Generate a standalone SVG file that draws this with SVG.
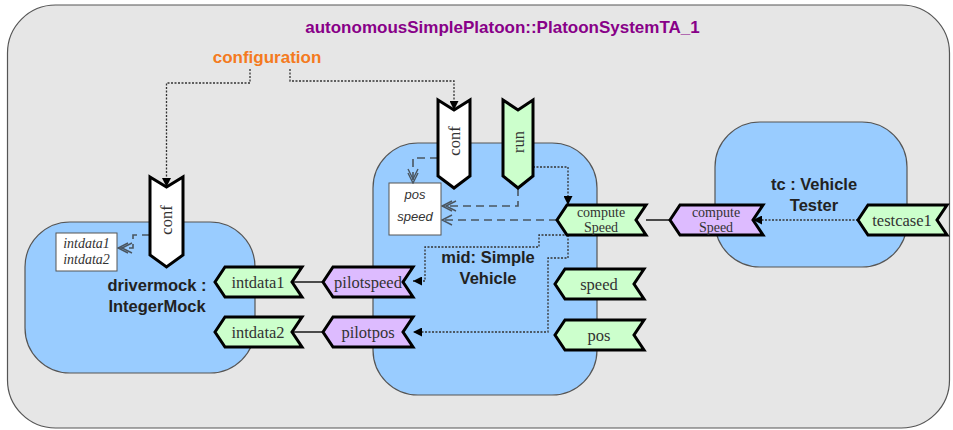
<svg xmlns="http://www.w3.org/2000/svg" width="953" height="430" viewBox="0 0 953 430">
<style>
.blk{fill:#99ccff;stroke:#555;stroke-width:1.2}
.pg{fill:#ccffcc;stroke:#000;stroke-width:3;stroke-linejoin:miter}
.pp{fill:#ddbbff;stroke:#000;stroke-width:3;stroke-linejoin:miter}
.pw{fill:#fff;stroke:#000;stroke-width:3;stroke-linejoin:miter}
.pl{font-family:"Liberation Serif",serif;font-size:16.5px;fill:#333;text-anchor:middle}
.ps{font-family:"Liberation Serif",serif;font-size:14px;fill:#333;text-anchor:middle}
.bl{font-family:"Liberation Sans",Arial,sans-serif;font-size:16.5px;font-weight:bold;fill:#222;text-anchor:middle}
.dash{fill:none;stroke:#4a5560;stroke-width:1.6;stroke-dasharray:8,5}
.dot{fill:none;stroke:#333;stroke-width:1.3;stroke-dasharray:2,1.5}
.solid{fill:none;stroke:#222;stroke-width:1.6}
.box{fill:#fff;stroke:#555;stroke-width:1}
</style>
<defs>
<marker id="fa" viewBox="0 0 10 10" refX="10" refY="5" markerWidth="9" markerHeight="9" markerUnits="userSpaceOnUse" orient="auto"><path d="M0,0 L10,5 L0,10 z" fill="#000"/></marker>
<marker id="oa" viewBox="0 0 12 12" refX="11" refY="6" markerWidth="12" markerHeight="12" markerUnits="userSpaceOnUse" orient="auto"><path d="M1,1 L11,6 L1,11" fill="none" stroke="#4a5560" stroke-width="1.4"/></marker>
<marker id="oa2" viewBox="0 0 16 12" refX="15" refY="6" markerWidth="16" markerHeight="12" markerUnits="userSpaceOnUse" orient="auto"><path d="M1,1 L11,6 L1,11 M5,1 L15,6 L5,11" fill="none" stroke="#4a5560" stroke-width="1.4"/></marker>
</defs>

<g id="system">
<rect x="7.5" y="5" width="942" height="423" rx="48" ry="48" fill="#e6e6e6" stroke="#555" stroke-width="1.2"/>
<text x="502.5" y="33" font-family="Liberation Sans,Arial,sans-serif" font-size="17" font-weight="bold" fill="#880088" text-anchor="middle">autonomousSimplePlatoon::PlatoonSystemTA_1</text>
</g>

<g id="configuration">
<text x="267" y="63" font-family="Liberation Sans,Arial,sans-serif" font-size="17" font-weight="bold" fill="#f47a20" text-anchor="middle">configuration</text>
</g>

<g id="drivermock">
<rect class="blk" x="25" y="222" width="230" height="151" rx="45" ry="45"/>
<text class="bl" x="157" y="291">drivermock :</text>
<text class="bl" x="157" y="312">IntegerMock</text>
<rect class="box" x="56" y="233" width="61" height="38"/>
<text x="86.5" y="248" font-family="Liberation Serif,serif" font-style="italic" font-size="14" fill="#333" text-anchor="middle">intdata1</text>
<text x="86.5" y="264" font-family="Liberation Serif,serif" font-style="italic" font-size="14" fill="#333" text-anchor="middle">intdata2</text>
</g>

<g id="mid">
<rect class="blk" x="373" y="143" width="224" height="252" rx="45" ry="45"/>
<text class="bl" x="488" y="263">mid: Simple</text>
<text class="bl" x="488" y="284">Vehicle</text>
<rect class="box" x="389" y="183" width="52" height="52"/>
<text x="415" y="199" font-family="Liberation Sans,Arial,sans-serif" font-style="italic" font-size="13" fill="#333" text-anchor="middle">pos</text>
<text x="415" y="221" font-family="Liberation Sans,Arial,sans-serif" font-style="italic" font-size="13" fill="#333" text-anchor="middle">speed</text>
</g>

<g id="tc">
<rect class="blk" x="715" y="122" width="192" height="145" rx="45" ry="45"/>
<text class="bl" x="814" y="190">tc : Vehicle</text>
<text class="bl" x="814" y="211">Tester</text>
</g>

<g id="connectors">
<path class="dot" d="M250,69 V83 H166.5 V187" marker-end="url(#fa)"/>
<path class="dot" d="M290,69 V81 H454 V110" marker-end="url(#fa)"/>
<path class="dash" d="M150,235 H133 V248 H118" marker-end="url(#oa2)"/>
<path class="dash" d="M438,158 H413 V183" marker-end="url(#oa2)"/>
<path class="dash" d="M518,188 V206 H442" marker-end="url(#oa2)"/>
<path class="dash" d="M557,220 H442" marker-end="url(#oa)"/>
<path class="dot" d="M533,167 H568 V205" marker-end="url(#fa)"/>
<path class="dot" d="M568,235 H539 V247 H425 V281 H413" marker-end="url(#fa)"/>
<path class="dot" d="M568,235 V258 H548 V332 H413" marker-end="url(#fa)"/>
<path class="dot" d="M858,220 H753" marker-end="url(#fa)"/>
<path class="solid" d="M646,220 H670"/>
<path class="solid" d="M292,282 H323"/>
<path class="solid" d="M292,332 H323"/>
</g>

<g id="drivermock-conf">
<polygon class="pw" points="150,177 166.5,187 183,177 183,255 166.5,267 150,255"/>
<text class="pl" font-size="17.5" transform="translate(166.5,220) rotate(-90)" dy="5.5">conf</text>
</g>
<g id="drivermock-intdata1">
<polygon class="pg" points="215,282 225,267 302,267 292,282 302,297 225,297"/>
<text class="pl" x="258" y="288">intdata1</text>
</g>
<g id="drivermock-intdata2">
<polygon class="pg" points="215,332 225,317 302,317 292,332 302,347 225,347"/>
<text class="pl" x="258" y="338">intdata2</text>
</g>
<g id="mid-pilotspeed">
<polygon class="pp" points="323,282 333,267 413,267 403,282 413,297 333,297"/>
<text class="pl" x="368" y="288">pilotspeed</text>
</g>
<g id="mid-pilotpos">
<polygon class="pp" points="323,332 333,317 413,317 403,332 413,347 333,347"/>
<text class="pl" x="368" y="338">pilotpos</text>
</g>
<g id="mid-conf">
<polygon class="pw" points="438,100 454,110 470,100 470,176 454,188 438,176"/>
<text class="pl" font-size="17.5" transform="translate(454,141) rotate(-90)" dy="5.5">conf</text>
</g>
<g id="mid-run">
<polygon class="pg" points="503,100 518,110 533,100 533,176 518,188 503,176"/>
<text class="pl" font-size="17.5" transform="translate(518,142) rotate(-90)" dy="5.5">run</text>
</g>
<g id="mid-computeSpeed">
<polygon class="pg" points="557,220 567,205 646,205 636,220 646,235 567,235"/>
<text class="ps" x="601" y="217">compute</text>
<text class="ps" x="601" y="232">Speed</text>
</g>
<g id="mid-speed">
<polygon class="pg" points="555,284 565,269 644,269 634,284 644,299 565,299"/>
<text class="pl" x="599" y="290">speed</text>
</g>
<g id="mid-pos">
<polygon class="pg" points="555,335 565,320 644,320 634,335 644,350 565,350"/>
<text class="pl" x="599" y="341">pos</text>
</g>
<g id="tc-computeSpeed">
<polygon class="pp" points="670,220 680,205 763,205 753,220 763,235 680,235"/>
<text class="ps" x="716" y="217">compute</text>
<text class="ps" x="716" y="232">Speed</text>
</g>
<g id="tc-testcase1">
<polygon class="pg" points="858,220 868,205 947,205 937,220 947,235 868,235"/>
<text class="pl" x="902" y="226">testcase1</text>
</g>
</svg>
